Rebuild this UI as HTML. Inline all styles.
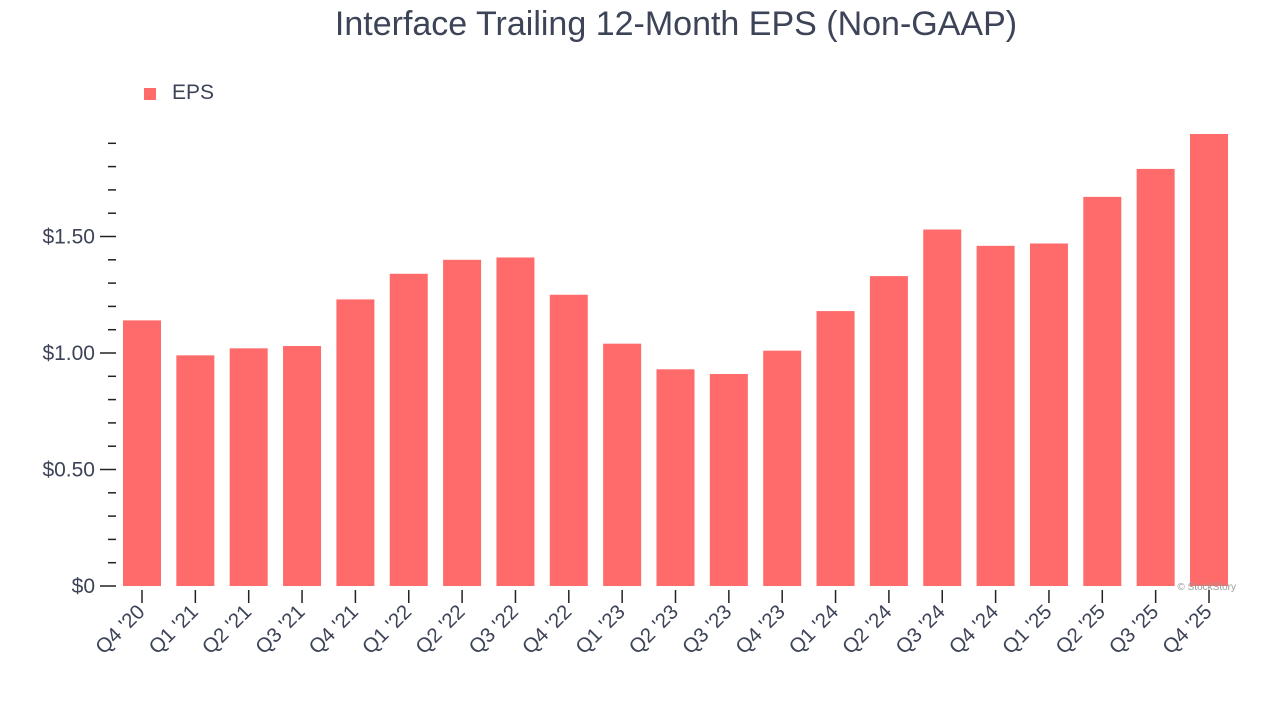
<!DOCTYPE html>
<html><head><meta charset="utf-8"><style>
body{margin:0;background:#fff;font-family:"Liberation Sans",Arial,sans-serif;}
svg text{font-family:"Liberation Sans",Arial,sans-serif;}
</style></head><body>
<svg id="chart" width="1280" height="720" xmlns="http://www.w3.org/2000/svg">
<text x="676" y="35" text-anchor="middle" font-size="34" fill="#3d4457">Interface Trailing 12-Month EPS (Non-GAAP)</text>
<rect x="144" y="88" width="12" height="12" fill="#ff6b6b"/>
<text x="172" y="99" font-size="21" fill="#3d4457">EPS</text>
<g id="axis"></g><g id="bars"></g>
<text x="1236" y="590" text-anchor="end" font-size="10" fill="#999">© StockStory</text>
</svg>
<script>
const categories=["Q4 '20","Q1 '21","Q2 '21","Q3 '21","Q4 '21","Q1 '22","Q2 '22","Q3 '22","Q4 '22","Q1 '23","Q2 '23","Q3 '23","Q4 '23","Q1 '24","Q2 '24","Q3 '24","Q4 '24","Q1 '25","Q2 '25","Q3 '25","Q4 '25"];
const eps=[1.14,0.99,1.02,1.03,1.23,1.34,1.40,1.41,1.25,1.04,0.93,0.91,1.01,1.18,1.33,1.53,1.46,1.47,1.67,1.79,1.94];
const tickValues=[0,0.5,1.0,1.5];
const tickLabels=["$0","$0.50","$1.00","$1.50"];
const NS="http://www.w3.org/2000/svg";
const y=v=>586-v*233;
const x=i=>142+i*(1209-142)/(categories.length-1);
function mk(t,a,p){const e=document.createElementNS(NS,t);for(const k in a)e.setAttribute(k,a[k]);p.appendChild(e);return e;}
const ax=document.getElementById('axis'),bg=document.getElementById('bars');
for(let k=0;k<=19;k++){const v=k*0.1;const major=k%5===0;
 const l=mk('line',{x1:major?100:108,x2:116,y1:y(v),y2:y(v),stroke:'#222','stroke-width':1.5},ax);
 
 }
tickValues.forEach((v,i)=>{const t=mk('text',{x:95,y:y(v)+7,'text-anchor':'end','font-size':21,fill:'#3d4457'},ax);t.textContent=tickLabels[i];
 
 });
categories.forEach((c,i)=>{
 const b=mk('rect',{x:x(i)-19,y:y(eps[i]),width:38,height:586-y(eps[i]),fill:'#ff6b6b'},bg);
 
 
 const tk=mk('line',{x1:x(i),x2:x(i),y1:590,y2:603,stroke:'#222','stroke-width':1.5},ax);
 
 
 const t=mk('text',{x:x(i)+4,y:613,'text-anchor':'end','font-size':20.5,fill:'#3d4457',transform:`rotate(-45 ${x(i)+4} 613)`},ax);
 t.textContent=c;
 
 
});
</script>
</body></html>
